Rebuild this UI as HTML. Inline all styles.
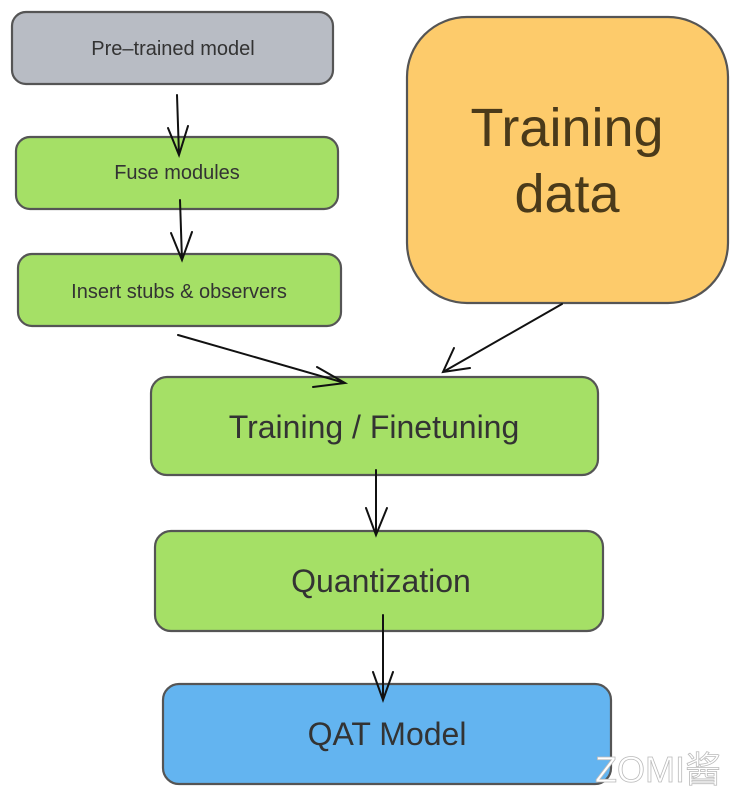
<!DOCTYPE html>
<html><head><meta charset="utf-8"><style>
html,body{margin:0;padding:0;background:#fff;}
svg{display:block;font-family:"Liberation Sans","DejaVu Sans",sans-serif;}
</style></head><body>
<svg width="742" height="798" viewBox="0 0 742 798" xmlns="http://www.w3.org/2000/svg">
<g stroke="#555" stroke-width="2.2">
<rect x="12" y="12" width="321" height="72" rx="14" fill="#b8bcc4"/>
<rect x="16" y="137" width="322" height="72" rx="14" fill="#a5e066"/>
<rect x="18" y="254" width="323" height="72" rx="14" fill="#a5e066"/>
<rect x="407" y="17" width="321" height="286" rx="60" fill="#fdcb6b"/>
<rect x="151" y="377" width="447" height="98" rx="16" fill="#a5e066"/>
<rect x="155" y="531" width="448" height="100" rx="16" fill="#a5e066"/>
<rect x="163" y="684" width="448" height="100" rx="16" fill="#63b4f0"/>
</g>
<g fill="#333" text-anchor="middle">
<text x="173" y="55" font-size="20">Pre–trained model</text>
<text x="177" y="179" font-size="20">Fuse modules</text>
<text x="179" y="298" font-size="20">Insert stubs &amp; observers</text>
<text x="567" y="146" font-size="54" fill="#4a3a1a">Training</text>
<text x="567" y="212" font-size="54" fill="#4a3a1a">data</text>
<text x="374" y="438" font-size="32">Training / Finetuning</text>
<text x="381" y="592" font-size="32">Quantization</text>
<text x="387" y="745" font-size="32">QAT Model</text>
</g>
<g stroke="#111" stroke-width="2" fill="none" stroke-linecap="round">
<path d="M177 95 L179 155 M168 128 L179 155 L188 126"/>
<path d="M180 200 L182 260 M171 233 L182 260 L192 232"/>
<path d="M178 335 L345 383 M317 367 L345 383 L313 387"/>
<path d="M562 304 L443 372 M454 348 L443 372 L470 368"/>
<path d="M376 470 L376 535 M366 508 L376 535 L387 508"/>
<path d="M383 615 L383 700 M373 672 L383 700 L393 672"/>
</g>
<text x="658" y="782" font-size="36" fill="#fff" stroke="#bbb" stroke-width="0.8" text-anchor="middle" font-family="Liberation Sans, Noto Sans CJK SC, sans-serif">ZOMI酱</text>
</svg>
</body></html>
